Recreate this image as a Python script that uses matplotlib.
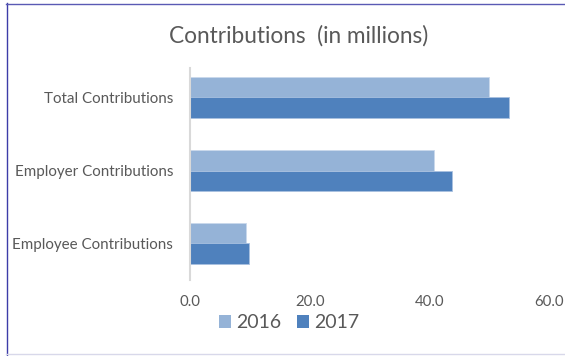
import matplotlib
matplotlib.use("Agg")
import matplotlib.pyplot as plt
from matplotlib.patches import Patch
from matplotlib.lines import Line2D

categories = ["Employee Contributions", "Employer Contributions", "Total Contributions"]
values_2016 = [9.4, 40.7, 50.0]
values_2017 = [9.8, 43.8, 53.3]
series_labels = ["2016", "2017"]
x_ticks = [0, 20, 40, 60]

c2016 = "#95B3D7"
c2017 = "#4F81BD"
text_color = "#595959"
font = "Lato"

fig = plt.figure(figsize=(5.65, 3.56), dpi=100)
W, H = 565, 356
ax = fig.add_axes([190 / W, (H - 280) / H, (549 - 190) / W, (280 - 61) / H])

h = 0.284
ys = list(range(len(categories)))
ax.barh([y + h / 2 for y in ys], values_2016, height=h, color=c2016,
        edgecolor="#c9d8ec", linewidth=0.6, label=series_labels[0])
ax.barh([y - h / 2 for y in ys], values_2017, height=h, color=c2017,
        edgecolor="#a9c1e0", linewidth=0.6, label=series_labels[1])

ax.set_xlim(0, 60)
ax.set_ylim(-0.5, 2.5)
ax.set_xticks(x_ticks)
ax.set_xticklabels([f"{t:.1f}" for t in x_ticks], fontsize=10.8, color=text_color, family=font)
ax.set_yticks(ys)
ax.set_yticklabels(categories, fontsize=10.9, color=text_color, family=font)
ax.tick_params(axis="both", length=0)
ax.tick_params(axis="x", pad=11)
ax.tick_params(axis="y", pad=12)
for s in ["top", "right", "bottom"]:
    ax.spines[s].set_visible(False)
ax.spines["left"].set_color("#d9d9d9")
ax.spines["left"].set_linewidth(1.5)
ax.spines["left"].set_bounds(-0.5, 2.4)

fig.text(299 / W, 1 - 36 / H, "Contributions  (in millions)", ha="center", va="center",
         fontsize=16.3, color=text_color, family=font)

handles = [Patch(facecolor=c2016, edgecolor="none"), Patch(facecolor=c2017, edgecolor="none")]
fig.legend(handles, series_labels, loc="center", bbox_to_anchor=(289 / W, 1 - 323 / H),
           ncol=2, frameon=False, prop={"family": font, "size": 14},
           labelcolor=text_color, handlelength=0.65, handleheight=0.65,
           handletextpad=0.25, columnspacing=0.8)

# chart frame
fig.add_artist(Line2D([6.5 / W, 6.5 / W], [0, 1 - 3 / H], transform=fig.transFigure,
                      color="#3c3ca8", linewidth=1.0))
fig.add_artist(Line2D([6 / W, 1], [1 - 3.5 / H, 1 - 3.5 / H], transform=fig.transFigure,
                      color="#5a5ab4", linewidth=1.0))
fig.add_artist(Line2D([6 / W, 1], [1 - 354 / H, 1 - 354 / H], transform=fig.transFigure,
                      color="#d8d8ea", linewidth=1.0))

fig.savefig("out.png", dpi=100)
